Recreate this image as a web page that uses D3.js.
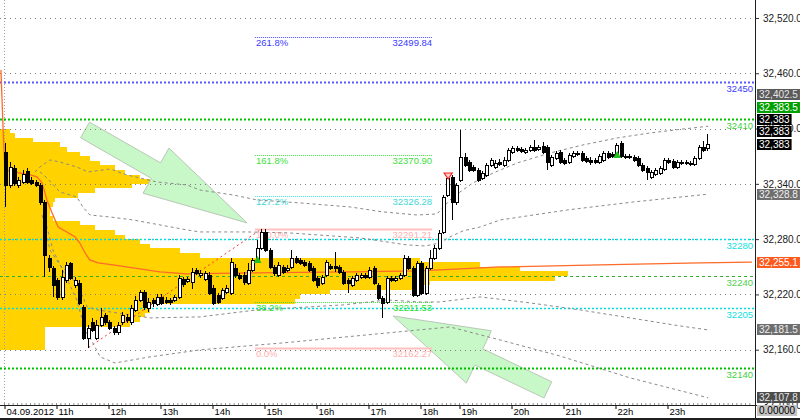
<!DOCTYPE html>
<html><head><meta charset="utf-8">
<script src="https://cdn.jsdelivr.net/npm/d3@7"></script>
<style>html,body{margin:0;padding:0;background:#fff;overflow:hidden}svg{display:block;font-family:"Liberation Sans",Arial,sans-serif}</style>
</head><body><svg id="c" width="800" height="420"></svg>
<script>
// ---------- DATA ----------
const hourLabels = ["04.09.2012","11h","12h","13h","14h","15h","16h","17h","18h","19h","20h","21h","22h","23h"];
const hourIndex  = [0,12,24,36,48,60,72,84,96,105,117,129,141,153];
const yTicks = [32520,32460,32400,32340,32280,32220,32160,32100];

// 5-minute candles [open, high, low, close]
const candles = [
[32374.6,32384.3,32314.9,32338.8],[32338.8,32363.7,32335.5,32358.3],[32357.2,32360.5,32337.7,32340.9],
[32338.8,32347.5,32335.5,32344.2],[32342.0,32355.0,32339.9,32350.7],[32354.0,32357.2,32339.9,32342.0],
[32344.2,32347.5,32338.8,32340.9],[32342.0,32344.2,32336.6,32338.8],[32338.8,32340.9,32317.1,32320.3],
[32320.3,32322.5,32239.0,32262.8],[32259.6,32262.8,32244.4,32249.8],[32248.7,32250.9,32217.3,32230.3],
[32235.7,32237.9,32214.0,32217.3],[32217.3,32246.6,32214.0,32239.0],[32235.7,32255.2,32232.4,32252.0],
[32254.2,32255.2,32235.7,32237.9],[32230.3,32239.0,32227.0,32235.7],[32232.4,32235.7,32208.6,32210.8],
[32206.4,32208.6,32170.6,32172.8],[32172.8,32186.9,32162.3,32183.6],[32190.1,32194.5,32179.3,32181.5],
[32172.8,32192.3,32170.6,32186.9],[32186.9,32205.3,32184.7,32195.6],[32197.7,32199.9,32186.9,32190.1],
[32190.1,32192.3,32181.5,32183.6],[32183.6,32185.8,32176.1,32179.3],[32179.3,32190.1,32176.1,32186.9],
[32190.1,32201.0,32186.9,32197.7],[32195.6,32198.8,32189.0,32192.3],[32190.1,32208.6,32186.9,32205.3],
[32203.2,32218.4,32201.0,32214.0],[32214.0,32224.9,32211.8,32222.7],[32222.7,32224.9,32203.2,32206.4],
[32205.3,32216.2,32201.0,32211.8],[32214.0,32216.2,32206.4,32210.8],[32209.7,32220.5,32207.5,32217.3],
[32217.3,32220.5,32208.6,32210.8],[32214.0,32217.3,32209.7,32211.8],[32214.0,32216.2,32208.6,32211.8],
[32214.0,32219.4,32211.8,32217.3],[32217.3,32241.1,32215.1,32237.9],[32236.8,32239.0,32228.1,32231.4],
[32234.6,32239.0,32232.4,32236.8],[32233.5,32248.7,32226.0,32244.4],[32246.6,32248.7,32241.1,32243.3],
[32241.1,32246.6,32238.0,32243.3],[32236.8,32245.5,32234.6,32243.3],[32241.1,32244.4,32219.4,32221.6],
[32227.0,32230.3,32208.6,32210.8],[32219.4,32221.6,32209.7,32211.8],[32216.2,32227.0,32214.0,32224.9],
[32222.7,32230.3,32220.5,32227.0],[32221.6,32259.6,32219.4,32255.2],[32248.7,32253.1,32237.9,32241.1],
[32241.1,32243.3,32235.7,32237.9],[32241.1,32244.4,32230.3,32233.5],[32232.4,32254.2,32230.3,32246.6],
[32246.6,32259.6,32244.4,32257.4],[32257.4,32279.1,32255.2,32270.4],[32270.4,32291.2,32268.3,32287.8],
[32287.8,32291.0,32266.1,32268.3],[32268.3,32270.4,32247.7,32249.8],[32249.8,32252.0,32240.0,32243.3],
[32241.1,32255.2,32239.0,32252.0],[32249.8,32252.0,32242.2,32244.4],[32246.6,32252.0,32244.4,32248.7],
[32249.8,32268.3,32247.7,32259.6],[32259.6,32261.7,32253.1,32255.2],[32257.4,32259.6,32252.0,32254.2],
[32255.2,32257.4,32249.8,32252.0],[32254.2,32256.3,32244.4,32246.6],[32248.7,32250.9,32233.5,32235.7],
[32237.9,32240.0,32227.0,32230.3],[32232.4,32241.1,32230.3,32239.0],[32241.1,32257.4,32239.0,32255.2],
[32250.9,32253.1,32246.6,32248.7],[32250.9,32266.1,32244.4,32248.7],[32249.8,32252.0,32242.2,32244.4],
[32244.4,32246.6,32230.3,32232.4],[32235.7,32237.9,32221.6,32232.4],[32230.3,32240.0,32228.1,32237.9],
[32235.7,32243.3,32233.5,32241.1],[32239.0,32243.3,32236.8,32241.1],[32241.1,32243.3,32236.8,32239.0],
[32239.0,32249.8,32236.8,32246.6],[32248.7,32250.9,32230.3,32232.4],[32230.3,32232.4,32214.0,32216.2],
[32216.2,32218.4,32194.5,32210.8],[32211.8,32240.0,32209.7,32237.9],[32237.9,32240.0,32233.5,32235.7],
[32235.7,32240.0,32233.5,32237.9],[32237.9,32243.3,32235.7,32241.1],[32241.1,32262.8,32239.0,32259.6],
[32259.6,32261.7,32246.6,32248.7],[32248.7,32250.9,32217.3,32219.4],[32219.4,32256.3,32217.3,32254.2],
[32254.2,32256.3,32219.4,32221.6],[32221.6,32250.9,32219.4,32248.7],[32248.7,32268.3,32246.6,32259.6],
[32259.6,32273.7,32257.4,32270.4],[32270.4,32290.0,32268.3,32286.7],[32287.8,32327.9,32285.6,32325.8],
[32327.9,32349.6,32325.8,32346.4],[32347.5,32349.6,32300.8,32320.3],[32320.3,32340.9,32317.1,32338.8],
[32344.2,32398.5,32342.0,32369.2],[32369.2,32373.5,32358.3,32360.5],[32363.7,32365.9,32352.9,32355.0],
[32358.3,32360.5,32352.9,32355.0],[32355.0,32357.2,32342.0,32344.2],[32346.4,32353.9,32344.2,32351.8],
[32349.6,32362.6,32347.5,32360.5],[32360.5,32368.1,32358.3,32365.9],[32358.3,32365.9,32356.1,32362.6],
[32363.7,32367.0,32359.4,32361.5],[32360.5,32369.2,32358.3,32365.9],[32365.9,32378.9,32363.7,32376.8],
[32374.6,32381.1,32372.4,32378.9],[32378.9,32381.1,32374.6,32376.8],[32377.8,32380.0,32373.5,32375.7],
[32374.6,32378.9,32372.4,32376.8],[32376.8,32382.2,32374.6,32380.0],[32380.0,32387.6,32374.6,32376.8],
[32377.8,32382.2,32375.7,32380.0],[32381.1,32385.4,32372.4,32374.6],[32380.0,32382.2,32355.0,32363.7],
[32360.5,32371.3,32358.3,32369.2],[32368.1,32375.7,32365.9,32373.5],[32374.6,32376.8,32361.5,32363.7],
[32365.9,32368.1,32360.5,32362.6],[32363.7,32373.5,32361.5,32371.3],[32370.2,32375.7,32368.1,32373.5],
[32372.4,32375.7,32370.2,32373.5],[32373.5,32375.7,32363.7,32365.9],[32368.1,32370.2,32362.6,32364.8],
[32365.9,32369.2,32360.5,32363.7],[32365.9,32368.1,32361.5,32363.7],[32363.7,32372.4,32361.5,32370.2],
[32365.9,32375.7,32363.7,32373.5],[32373.5,32375.7,32367.0,32369.2],[32372.4,32374.6,32368.1,32370.2],
[32371.3,32384.3,32369.2,32382.2],[32384.3,32386.5,32368.1,32370.2],[32370.2,32372.4,32367.0,32369.2],
[32370.2,32372.4,32367.0,32369.2],[32369.2,32371.3,32363.7,32365.9],[32368.1,32370.2,32358.3,32360.5],
[32360.5,32362.6,32352.9,32355.0],[32357.2,32359.4,32344.2,32352.9],[32347.5,32355.0,32345.3,32352.9],
[32350.7,32357.2,32348.5,32355.0],[32351.8,32359.4,32349.6,32357.2],[32356.1,32368.1,32353.9,32365.9],
[32365.9,32368.1,32361.5,32363.7],[32364.8,32367.0,32356.1,32358.3],[32358.3,32365.9,32356.1,32363.7],
[32363.7,32365.9,32360.5,32362.6],[32362.6,32365.9,32360.5,32363.7],[32362.6,32364.8,32359.4,32361.5],
[32361.5,32370.2,32359.4,32368.1],[32368.1,32382.2,32365.9,32380.0],[32380.0,32386.5,32374.6,32376.8],
[32378.9,32394.2,32375.7,32383.0]
];

// volume profile (bin top price, 5-pt bins) and volume
const profilePrice = [32400,32395,32390,32385,32380,32375,32370,32365,32360,32355,32350,32345,32340,32335,32330,32325,32320,32315,32310,32305,32300,32295,32290,32285,32280,32275,32270,32265,32260,32255,32250,32245,32240,32235,32230,32225,32220,32215,32210,32205,32200,32195,32190,32185,32180,32175,32170,32165];
const profileVol   = [10,15,33,60,67,80,90,100,115,125,140,150,132,95,78,55,53,50,50,53,80,95,115,125,140,150,180,200,420,480,520,568,555,430,420,330,300,295,150,150,145,140,130,45,45,45,45,45];

// VWAP and bands: [bar index, price]
const vwap = [[-1.2,32463.5],[-0.7,32398.5],[-0.3,32355.0],[5.5,32349.6],[7.1,32347.5],[8.3,32340.9],[9.4,32322.5],[10.6,32308.4],[12.0,32293.2],[14.0,32287.8],[15.9,32282.4],[17.0,32275.8],[18.2,32265.0],[19.3,32257.4],[21.2,32254.2],[24.7,32252.0],[29.3,32248.7],[35.5,32244.4],[41.7,32242.2],[56.3,32243.3],[79.4,32244.4],[95.5,32245.5],[100.1,32246.6],[114.0,32249.8],[137.0,32252.0],[160.1,32254.2],[172.1,32255.1]];
const upper1 = [[6.65,32352.9],[7.8,32358.3],[10.1,32365.9],[12.4,32363.7],[16.3,32358.3],[18.9,32352.9],[24.0,32356.1],[27.9,32349.6],[34.8,32342.0],[41.7,32338.8],[44.7,32333.3],[52.4,32327.9],[57.9,32322.5],[67.8,32319.3],[79.4,32314.9],[87.0,32309.5],[94.8,32306.2],[99.4,32307.3],[103.1,32325.8],[107.7,32340.9],[112.4,32351.8],[117.9,32362.6],[125.5,32373.5],[133.1,32382.2],[141.0,32389.8],[148.6,32395.2],[156.2,32399.5],[162,32402.5]];
const upper2 = [[7.8,32352.9],[9.4,32346.4],[11.3,32336.6],[12.4,32331.2],[16.3,32325.8],[17.7,32314.9],[19.3,32306.2],[24.0,32304.0],[29.3,32300.8],[35.5,32295.4],[41.7,32290.0],[44.7,32287.8],[55.6,32287.8],[65.5,32286.7],[81.7,32281.3],[92.5,32273.7],[96.7,32272.6],[100.1,32275.8],[102.4,32282.4],[105.4,32288.9],[109.4,32293.2],[114.0,32300.8],[129.4,32311.6],[144.7,32320.3],[162,32328.8]];
const lower1 = [[8.3,32306.2],[10.1,32268.3],[12.4,32252.0],[14.7,32241.1],[17.0,32224.9],[18.7,32206.4],[21.0,32203.2],[25.6,32199.9],[33.2,32194.5],[44.7,32195.6],[57.9,32203.2],[77.7,32208.6],[87.9,32214.0],[95.5,32211.8],[100.1,32211.8],[109.4,32217.3],[120.9,32210.8],[132.4,32203.2],[144.0,32194.5],[155.5,32185.8],[162,32181.5]];
const lower2 = [[8.96,32300.8],[10.8,32268.3],[13.6,32241.1],[16.3,32214.0],[18.2,32181.5],[20.0,32167.4],[21.7,32152.2],[25.1,32145.6],[33.2,32152.2],[44.7,32159.8],[63.9,32167.4],[83.3,32176.1],[102.4,32184.7],[114.0,32170.6],[127.8,32153.2],[144.0,32129.4],[162,32107.8]];

// horizontal levels
const levelValues = [32450, 32410, 32280, 32240, 32205, 32140];
// fibonacci
const fibLabels = ["261.8%","161.8%","127.2%","100.0%","38.2%","0.0%"];
const fibValues = [32499.84, 32370.90, 32326.28, 32291.21, 32211.53, 32162.27];
const fibSpan = [57.4, 98.3];          // bar index range of the fib lines
const fibAnchors = [19, 59];           // low bar, high bar
// signal markers
const sellMarkers = [102];
const buyMarkers = [58, 141];
// arrows [bar index, price] tail -> tip
const arrows = [[[18.2,32398.5],[55.6,32297.6]], [[125.0,32116.4],[89.3,32196.6]]];
// last-value labels
const lastValues = [32402.5, 32383.5, 32383, 32383, 32383, 32328.8, 32255.1, 32181.5, 32107.8];
const indicatorValue = [0];

// ---------- STYLES ----------
const levelStyle = [
 {c:"#5a5aff",w:2,d:"2,2",t:"#3a3aff"},
 {c:"#00c000",w:2,d:"2,2",t:"#3cd23c"},
 {c:"#00e0e0",w:1.5,d:"2,2",t:"#10e0e0"},
 {c:"#30b030",w:1,d:"3,3",t:"#50d050"},
 {c:"#00e0e0",w:1.5,d:"2,2",t:"#10e0e0"},
 {c:"#00c000",w:2,d:"2,2",t:"#3cd23c"}];
const fibStyle = [
 {c:"#5050ff",d:"1,1",t:"#3a3aff",w:1},
 {c:"#40e040",d:"1,1",t:"#40e040",w:1},
 {c:"#40e0e0",d:"1,1",t:"#40d8d8",w:1},
 {c:"#ffc0c0",d:null,t:"#ffb0b0",w:2},
 {c:"#40e040",d:"1,1",t:"#30e030",w:1},
 {c:"#ffc0c0",d:null,t:"#ffb0b0",w:2}];
const boxBg = ["#5a5a5a","#00a000","#000","#000","#000","#6e6e6e","#ff5a1e","#6e6e6e","#4c4c4c"];
const boxFg = ["#e6e6e6","#fff","#fff","#fff","#fff","#f0f0f0","#fff","#f0f0f0","#e6e6e6"];

// ---------- CHART ----------
const svg = d3.select("#c");
const y = d3.scaleLinear().domain([32100, 32539.5]).range([405, 0]);
const x = d3.scaleLinear().domain([-0.5, 172.5]).range([4, 753.67]);
const xv = d3.scaleLinear().domain([0, 600]).range([0, 600]);
const py = v => Math.round(y(v)) + 0.5;

svg.append("rect").attr("width",800).attr("height",420).attr("fill","#fff");
svg.append("defs").append("clipPath").attr("id","clip").append("rect").attr("x",0).attr("y",0).attr("width",755).attr("height",405);
const g = svg.append("g").attr("clip-path","url(#clip)");

// volume profile
g.append("g").attr("shape-rendering","crispEdges").selectAll("rect").data(profilePrice).join("rect")
 .attr("x",0).attr("y",p=>Math.round(y(p))).attr("width",(p,i)=>xv(profileVol[i]))
 .attr("height",p=>Math.round(y(p-5))-Math.round(y(p))).attr("fill","#ffd200");

// arrows
function arrowPts(tail, tip, sw, hl, hw){
  const x0=x(tail[0]), y0=y(tail[1]), x1=x(tip[0]), y1=y(tip[1]);
  const dx=x1-x0, dy=y1-y0, L=Math.hypot(dx,dy), ux=dx/L, uy=dy/L, nx=-uy, ny=ux;
  const bx=x1-ux*hl, by=y1-uy*hl;
  return [[x0+nx*sw,y0+ny*sw],[bx+nx*sw,by+ny*sw],[bx+nx*hw,by+ny*hw],[x1,y1],[bx-nx*hw,by-ny*hw],[bx-nx*sw,by-ny*sw],[x0-nx*sw,y0-ny*sw]];
}
g.append("g").selectAll("polygon").data(arrows).join("polygon")
 .attr("points",(a,i)=>arrowPts(a[0],a[1],9,i===0?105:95,i===0?26:29).map(p=>p.join(",")).join(" "))
 .attr("fill","#c8f7c8").attr("stroke","#b8c8b8").attr("stroke-width",1);

// grid
g.append("g").selectAll("line").data(yTicks).join("line")
 .attr("x1",0).attr("x2",755).attr("y1",py).attr("y2",py)
 .attr("stroke","#808080").attr("stroke-dasharray","1,4");

// session start
g.append("line").attr("x1",Math.round(x(-0.5))+0.5).attr("x2",Math.round(x(-0.5))+0.5).attr("y1",0).attr("y2",405)
 .attr("stroke","#a0a0a0").attr("stroke-dasharray","1,2");

// level lines
const lv = g.append("g");
lv.selectAll("line").data(levelValues).join("line")
 .attr("x1",0).attr("x2",755).attr("y1",py).attr("y2",py)
 .attr("stroke",(d,i)=>levelStyle[i].c).attr("stroke-width",(d,i)=>levelStyle[i].w)
 .attr("stroke-dasharray",(d,i)=>levelStyle[i].d);
lv.selectAll("text").data(levelValues).join("text")
 .attr("x",753).attr("y",d=>y(d)+10).attr("text-anchor","end").attr("font-size",9.5)
 .attr("fill",(d,i)=>levelStyle[i].t).text(d=>d);

// fib
const fb = g.append("g");
fb.selectAll("line").data(fibValues).join("line")
 .attr("x1",x(fibSpan[0])).attr("x2",x(fibSpan[1])).attr("y1",py).attr("y2",py)
 .attr("stroke",(d,i)=>fibStyle[i].c).attr("stroke-width",(d,i)=>fibStyle[i].w)
 .attr("stroke-dasharray",(d,i)=>fibStyle[i].d);
fb.selectAll("text.l").data(fibValues).join("text").attr("class","l")
 .attr("x",x(fibSpan[0])+1).attr("y",d=>y(d)+9).attr("font-size",9.5)
 .attr("fill",(d,i)=>fibStyle[i].t).text((d,i)=>fibLabels[i]);
fb.selectAll("text.v").data(fibValues).join("text").attr("class","v")
 .attr("x",x(fibSpan[1])).attr("y",d=>y(d)+9).attr("font-size",9.5).attr("text-anchor","end")
 .attr("fill",(d,i)=>fibStyle[i].t).text(d=>d3.format(".2f")(d));
// fib anchor line
g.append("line").attr("x1",x(fibAnchors[0])).attr("y1",y(candles[fibAnchors[0]][2]))
 .attr("x2",x(fibAnchors[1])).attr("y2",y(candles[fibAnchors[1]][1]))
 .attr("stroke","#ff3030").attr("stroke-dasharray","2,3");

// bands + vwap
const line = d3.line().x(d=>x(d[0])).y(d=>y(d[1]));
g.append("g").selectAll("path").data([upper1,upper2,lower1,lower2]).join("path")
 .attr("d",line).attr("fill","none").attr("stroke","#8a8a8a").attr("stroke-dasharray","3,3");
g.append("path").attr("d",line(vwap)).attr("fill","none").attr("stroke","#ff6a28").attr("stroke-width",1.3);

// candles
const cg = g.append("g").attr("shape-rendering","crispEdges");
cg.selectAll("line").data(candles).join("line")
 .attr("x1",(c,i)=>Math.round(x(i))-0.5).attr("x2",(c,i)=>Math.round(x(i))-0.5)
 .attr("y1",c=>Math.round(y(c[1]))).attr("y2",c=>Math.round(y(c[2])))
 .attr("stroke","#000");
cg.selectAll("rect").data(candles).join("rect")
 .attr("x",(c,i)=>Math.round(x(i))-1.5)
 .attr("y",c=>Math.round(y(Math.max(c[0],c[3])))+0.5)
 .attr("width",3)
 .attr("height",c=>Math.max(1,Math.round(y(Math.min(c[0],c[3])))-Math.round(y(Math.max(c[0],c[3])))))
 .attr("fill",c=>c[3]>=c[0]?"#fff":"#000").attr("stroke","#000");

// markers
g.selectAll("path.sell").data(sellMarkers).join("path").attr("class","sell")
 .attr("d",i=>{const cx=x(i), t=y(candles[i][1])-2; return `M${cx-4},${t}L${cx+4},${t}L${cx},${t+6}Z`;})
 .attr("fill","#ffd0d0").attr("stroke","#ff2020").attr("stroke-width",1.2);
g.selectAll("path.buy").data(buyMarkers).join("path").attr("class","buy")
 .attr("d",i=>{const cx=x(i), b=y(candles[i][2])+1; return `M${cx-4},${b}L${cx+4},${b}L${cx},${b-7}Z`;})
 .attr("fill","#20c020");

// axes
const ya = svg.append("g").attr("transform","translate(755,0)")
 .call(d3.axisRight(y).tickValues(yTicks).tickSize(4).tickSizeOuter(0).tickPadding(4).tickFormat(d3.format(",.1f")));
ya.select(".domain").remove();
ya.selectAll("text").attr("font-size",10).attr("fill","#202020").attr("font-family","Liberation Sans, Arial");
ya.selectAll("line").attr("stroke","#303030");

const xa = svg.append("g").attr("transform","translate(0,405)")
 .call(d3.axisBottom(x).tickValues(hourIndex.map(i=>i-0.5)).tickSize(4).tickSizeOuter(0).tickFormat((d,i)=>hourLabels[i]));
xa.select(".domain").remove();
xa.selectAll("text").attr("text-anchor","start").attr("dx",2).attr("y",3).attr("font-size",9.5).attr("fill","#000").attr("font-family","Liberation Sans, Arial");
xa.selectAll("line").attr("stroke","#000").attr("transform","translate(0.5,0)");
const xm = svg.append("g").attr("transform","translate(0,405)")
 .call(d3.axisTop(x).tickValues(d3.range(173).map(i=>i-0.5)).tickSize(2).tickSizeOuter(0).tickFormat(""));
xm.select(".domain").remove();
xm.selectAll("line").attr("stroke","#909090");

svg.append("line").attr("x1",0).attr("x2",755).attr("y1",405.5).attr("y2",405.5).attr("stroke","#202020");
svg.append("line").attr("x1",755.5).attr("x2",755.5).attr("y1",0).attr("y2",420).attr("stroke","#202020");
svg.append("line").attr("x1",0).attr("x2",800).attr("y1",419).attr("y2",419).attr("stroke","#202020").attr("stroke-width",2);

// last value boxes (stacked upward to avoid overlap)
const order = d3.range(lastValues.length).sort((a,b)=>lastValues[a]-lastValues[b]);
const pos = new Array(lastValues.length);
let prev = Infinity;
order.forEach(k=>{ let yc = y(lastValues[k]); if (yc > prev - 12.4) yc = prev - 12.4; pos[k]=yc; prev=yc; });
const fmtVal = v => (v % 1 === 0) ? d3.format(",")(v) : d3.format(",.1f")(v);
const bx = svg.append("g");
lastValues.forEach((v,k)=>{
  const gg = bx.append("g");
  const r = gg.append("rect").attr("x",757).attr("y",Math.round(pos[k]-5.5)).attr("height",11).attr("fill",boxBg[k]);
  const t = gg.append("text").attr("x",759).attr("y",Math.round(pos[k]-5.5)+9).attr("font-size",10).attr("fill",boxFg[k]).text(fmtVal(v));
  r.attr("width",t.node().getComputedTextLength()+4);
});
indicatorValue.forEach(v=>{
  const gi = svg.append("g");
  const r = gi.append("rect").attr("x",757).attr("y",405).attr("height",11).attr("fill","#c4c4c4");
  const t = gi.append("text").attr("x",759).attr("y",414).attr("font-size",10).attr("fill","#000").text(d3.format(".5f")(v));
  r.attr("width",t.node().getComputedTextLength()+4);
});
</script></body></html>
